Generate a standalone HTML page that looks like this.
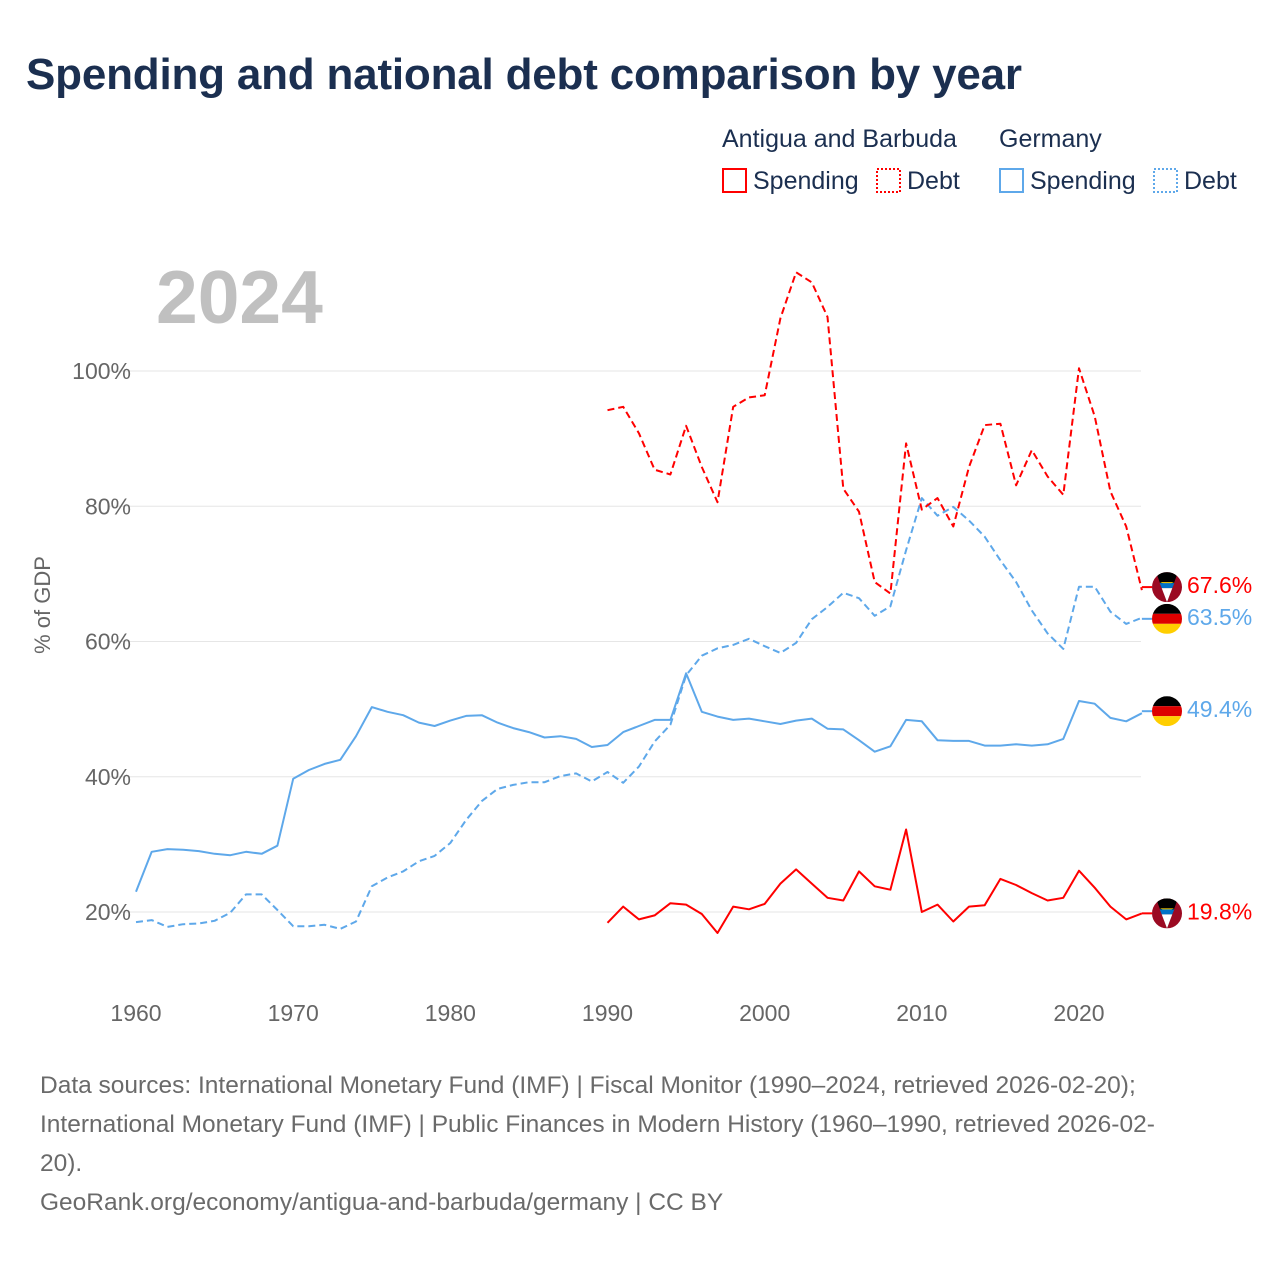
<!DOCTYPE html>
<html><head><meta charset="utf-8"><style>
body{margin:0;background:#fff;width:1280px;height:1280px;overflow:hidden;font-family:"Liberation Sans",sans-serif}
.title{position:absolute;left:26px;top:50px;font-size:44px;font-weight:bold;color:#1b2f50;letter-spacing:-0.2px;white-space:nowrap}
.foot{position:absolute;left:40px;top:1066px;width:1220px;font-size:24.5px;line-height:39px;color:#6a6a6a;white-space:nowrap}
</style></head><body>
<div class="title">Spending and national debt comparison by year</div>
<svg id="chart" width="1280" height="1280" style="position:absolute;left:0;top:0">
<g id="legend" font-size="25" fill="#1b2f50">
<text x="722" y="147">Antigua and Barbuda</text>
<text x="999" y="147">Germany</text>
<g><rect x="723" y="169" width="23" height="23" fill="none" stroke="#ff0000" stroke-width="2"/><text x="753" y="189">Spending</text></g>
<g><rect x="877" y="169" width="23" height="23" fill="none" stroke="#ff0000" stroke-width="2" stroke-dasharray="2,2"/><text x="907" y="189">Debt</text></g>
<g><rect x="1000" y="169" width="23" height="23" fill="none" stroke="#5ea8ea" stroke-width="2"/><text x="1030" y="189">Spending</text></g>
<g><rect x="1154" y="169" width="23" height="23" fill="none" stroke="#5ea8ea" stroke-width="2" stroke-dasharray="2,2"/><text x="1184" y="189">Debt</text></g>
</g>
<text x="156" y="323" font-size="75" font-weight="bold" fill="#c0c0c0">2024</text>
<text transform="translate(50,605) rotate(-90)" text-anchor="middle" font-size="22" fill="#666">% of GDP</text>
<g id="grid"></g><g id="series"></g><g id="ends"></g>
</svg>
<div class="foot">Data sources: International Monetary Fund (IMF) | Fiscal Monitor (1990–2024, retrieved 2026-02-20);<br>International Monetary Fund (IMF) | Public Finances in Modern History (1960–1990, retrieved 2026-02-<br>20).<br>GeoRank.org/economy/antigua-and-barbuda/germany | CC BY</div>
<script>
const yTicks=[20,40,60,80,100];
const xTicks=[1960,1970,1980,1990,2000,2010,2020];
const deSpending=[23.0,28.9,29.3,29.2,29.0,28.6,28.4,28.9,28.6,29.8,39.7,41.0,41.9,42.5,46.0,50.3,49.6,49.1,48.0,47.5,48.3,49.0,49.1,48.0,47.2,46.6,45.8,46.0,45.6,44.4,44.7,46.6,47.5,48.4,48.4,55.3,49.6,48.9,48.4,48.6,48.2,47.8,48.3,48.6,47.1,47.0,45.4,43.7,44.5,48.4,48.2,45.4,45.3,45.3,44.6,44.6,44.8,44.6,44.8,45.6,51.2,50.8,48.7,48.2,49.4];
const deDebt=[18.5,18.8,17.8,18.2,18.3,18.7,19.9,22.6,22.6,20.3,17.9,17.9,18.1,17.5,18.6,23.8,25.1,26.0,27.5,28.3,30.2,33.6,36.4,38.2,38.8,39.2,39.2,40.1,40.5,39.3,40.7,39.1,41.5,45.2,47.7,55.0,57.9,59.0,59.5,60.4,59.3,58.3,59.8,63.3,65.1,67.2,66.4,63.8,65.2,73.5,81.2,78.6,79.9,77.9,75.5,72.0,68.8,64.6,61.2,58.9,68.1,68.1,64.4,62.6,63.5];
const agSpending=[18.4,20.8,18.9,19.5,21.3,21.1,19.7,16.9,20.8,20.4,21.2,24.2,26.3,24.2,22.1,21.7,26.0,23.8,23.3,32.2,20.0,21.1,18.6,20.8,21.0,24.9,24.0,22.8,21.7,22.1,26.1,23.6,20.8,18.9,19.8];
const agDebt=[94.2,94.7,90.8,85.4,84.7,91.9,85.8,80.6,94.7,96.1,96.4,107.8,114.6,113.1,108.0,82.6,79.2,68.8,67.1,89.3,79.5,81.2,77.0,85.8,92.0,92.2,83.1,88.3,84.4,81.7,100.4,93.3,82.2,77.0,67.6];
const NS='http://www.w3.org/2000/svg';
const X=yr=>136+(yr-1960)*(1079-136)/60;
const Y=v=>1047.25-v*6.7625;
function mk(tag,attrs,parent){const e=document.createElementNS(NS,tag);for(const k in attrs)e.setAttribute(k,attrs[k]);parent.appendChild(e);return e;}
const grid=document.getElementById('grid');
yTicks.forEach(t=>{
 const l=mk('line',{x1:108,x2:1141,y1:Y(t),y2:Y(t),stroke:'#e6e6e6','stroke-width':1},grid);
 
 
 const tx=mk('text',{x:131,y:Y(t)+8,'text-anchor':'end','font-size':23,fill:'#666'},grid);tx.textContent=t+'%';
 
 
});
xTicks.forEach(t=>{
 const tx=mk('text',{x:X(t),y:1021,'text-anchor':'middle','font-size':23,fill:'#666'},grid);tx.textContent=t;
 
 
});
const ser=document.getElementById('series');
function line(vals,start,color,dash,name){
 const pts=vals.map((v,i)=>X(start+i).toFixed(1)+','+Y(v).toFixed(1)).join(' ');
 const p=mk('polyline',{points:pts,fill:'none',stroke:color,'stroke-width':2,'stroke-linejoin':'round'},ser);
 if(dash)p.setAttribute('stroke-dasharray','7,4');
 
 
}
line(deDebt,1960,'#5ea8ea',true,'germany-debt-line');
line(deSpending,1960,'#5ea8ea',false,'germany-spending-line');
line(agDebt,1990,'#ff0000',true,'antigua-debt-line');
line(agSpending,1990,'#ff0000',false,'antigua-spending-line');
const ends=document.getElementById('ends');
const defs=mk('defs',{},ends);
let cid=0;
function flag(cy,type,val,color,name){
 const cx=1167,r=15,id='c'+(cid++);
 const cp=mk('clipPath',{id:id},defs);mk('circle',{cx:cx,cy:cy,r:r},cp);
 const g=mk('g',{'clip-path':'url(#'+id+')'},ends);
 
 
 if(type==='de'){
  mk('rect',{x:cx-r,y:cy-r,width:30,height:10,fill:'#000'},g);
  mk('rect',{x:cx-r,y:cy-5,width:30,height:10,fill:'#dd0000'},g);
  mk('rect',{x:cx-r,y:cy+5,width:30,height:10,fill:'#ffce00'},g);
 }else{
  mk('rect',{x:cx-r,y:cy-r,width:30,height:30,fill:'#9b0a22'},g);
  mk('polygon',{points:`${cx-11},${cy-r} ${cx+11},${cy-r} ${cx},${cy+r}`,fill:'#000'},g);
  mk('polygon',{points:`${cx-7},${cy-5} ${cx+7},${cy-5} ${cx-4.8},${cy} ${cx+4.8},${cy}`,fill:'#ffd200'},g);
  mk('polygon',{points:`${cx-7.3},${cy-4} ${cx+7.3},${cy-4} ${cx+5.3},${cy+1} ${cx-5.3},${cy+1}`,fill:'#0072c6'},g);
  mk('polygon',{points:`${cx-5.3},${cy+1} ${cx+5.3},${cy+1} ${cx},${cy+r}`,fill:'#fff'},g);
 }
 const t=mk('text',{x:1187,y:cy+6,'font-size':23,fill:color},ends);t.textContent=val.toFixed(1)+'%';
 
 
 mk('line',{x1:X(2024),x2:cx-r,y1:cy,y2:cy,stroke:color,'stroke-width':2},ends);
}
flag(Y(agDebt[agDebt.length-1])-3,'ag',agDebt[agDebt.length-1],'#ff0000','antigua-debt');
flag(Y(deDebt[deDebt.length-1])+1,'de',deDebt[deDebt.length-1],'#5ea8ea','germany-debt');
flag(Y(deSpending[deSpending.length-1])-2,'de',deSpending[deSpending.length-1],'#5ea8ea','germany-spending');
flag(Y(agSpending[agSpending.length-1]),'ag',agSpending[agSpending.length-1],'#ff0000','antigua-spending');
</script>
</body></html>
